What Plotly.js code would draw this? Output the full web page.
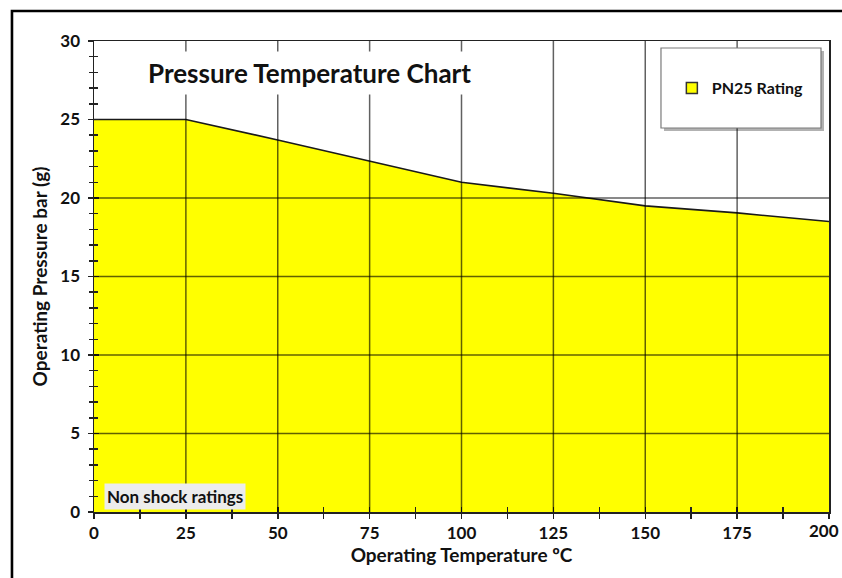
<!DOCTYPE html>
<html>
<head>
<meta charset="utf-8">
<script src="https://cdn.plot.ly/plotly-3.0.1.min.js"></script>
<style>html,body{margin:0;padding:0;background:#fff;}#chart{width:842px;height:578px;}</style>
</head>
<body>
<div id="chart"></div>
<script>
// ---- data ----
const temperatureC = [0, 25, 50, 75, 100, 125, 150, 175, 200];
const pressureBar = [25, 25, 23.7, 22.35, 21, 20.3, 19.5, 19.05, 18.5];
const seriesName = 'PN25 Rating';
const xTicks = [0, 25, 50, 75, 100, 125, 150, 175, 200];
const xTickLabels = ['0', '25', '50', '75', '100', '125', '150', '175', ''];
const xLastLabel = '200';
const yTicks = [0, 5, 10, 15, 20, 25, 30];
const hGrid = [5, 10, 15, 20];
const vGrid = [25, 50, 75, 100, 125, 150, 175];

const FONT = 'Lato, "Open Sans", sans-serif';
const gridCol = 'rgba(0,0,0,0.62)';

const traces = [
  {
    x: temperatureC, y: pressureBar, type: 'scatter', mode: 'lines',
    fill: 'tozeroy', fillcolor: '#ffff00',
    line: {color: '#1a1a1a', width: 1.6},
    showlegend: false, hoverinfo: 'skip'
  },
  {
    x: [null], y: [null], type: 'scatter', mode: 'markers', name: seriesName,
    marker: {symbol: 'square', size: 11, color: '#ffff00', line: {color: '#333', width: 1.5}}
  },
  {
    x: temperatureC, y: pressureBar, xaxis: 'x2', yaxis: 'y2', type: 'scatter', mode: 'lines',
    line: {width: 0}, opacity: 0, showlegend: false, hoverinfo: 'skip'
  }
];

const shapes = [];
hGrid.forEach(v => shapes.push({type: 'line', xref: 'paper', yref: 'y', x0: 0, x1: 1, y0: v, y1: v,
  line: {color: gridCol, width: 1.5}, layer: 'above'}));
vGrid.forEach(v => shapes.push({type: 'line', xref: 'x', yref: 'paper', x0: v, x1: v, y0: 0, y1: 1,
  line: {color: gridCol, width: 1.5}, layer: 'above'}));
// legend box shadow + box
shapes.push({type: 'rect', xref: 'paper', yref: 'paper', x0: 0.7755, x1: 0.9932, y0: 0.8090, y1: 0.9790,
  fillcolor: 'rgba(0,0,0,0.30)', line: {width: 0}, layer: 'above'});
shapes.push({type: 'rect', xref: 'paper', yref: 'paper', x0: 0.7714, x1: 0.9891, y0: 0.8153, y1: 0.9851,
  fillcolor: '#ffffff', line: {color: '#7a7a7a', width: 1.2}, layer: 'above'});
// outer frame
shapes.push({type: 'rect', xref: 'paper', yref: 'paper', x0: -0.1116, x1: 1.3, y0: -0.3, y1: 1.0637,
  fillcolor: 'rgba(0,0,0,0)', line: {color: '#000', width: 2.6}, layer: 'above'});

const layout = {
  width: 842, height: 578,
  margin: {l: 94, r: 13, t: 41, b: 66},
  paper_bgcolor: '#ffffff', plot_bgcolor: '#ffffff',
  font: {family: FONT, color: '#111', size: 16},
  showlegend: true,
  legend: {x: 0.7862, y: 0.900, xanchor: 'left', yanchor: 'middle',
    bgcolor: 'rgba(0,0,0,0)', borderwidth: 0,
    font: {family: FONT, size: 16, color: '#111', weight: 'bold'}},
  xaxis: {
    range: [0, 200], tickvals: xTicks, ticktext: xTickLabels,
    showgrid: false, zeroline: false,
    showline: true, linecolor: '#222', linewidth: 1.5, mirror: true,
    ticks: 'outside', ticklen: 5, tickwidth: 1.5, tickcolor: '#222',
    minor: {dtick: 12.5, tick0: 0, ticks: 'outside', ticklen: 5, tickwidth: 1.5, tickcolor: '#222', showgrid: false},
    tickfont: {family: FONT, size: 17, weight: 'bold', color: '#111'},
    title: {text: 'Operating Temperature ºC', standoff: 3,
      font: {family: FONT, size: 19, weight: 'bold', color: '#111'}}
  },
  yaxis: {
    range: [0, 30], tickvals: yTicks, ticktext: yTicks.map(String),
    showgrid: false, zeroline: false,
    showline: true, linecolor: '#222', linewidth: 1.5, mirror: true,
    ticks: 'outside', ticklen: 5, tickwidth: 1.5, tickcolor: '#222',
    minor: {dtick: 1, tick0: 0, ticks: 'outside', ticklen: 4, tickwidth: 1.5, tickcolor: '#222', showgrid: false},
    tickfont: {family: FONT, size: 17, weight: 'bold', color: '#111'},
    ticklabelstandoff: 4,
    title: {text: 'Operating Pressure bar (g)', standoff: 7,
      font: {family: FONT, size: 19, weight: 'bold', color: '#111'}}
  },
  xaxis2: {
    overlaying: 'x', anchor: 'y', range: [0, 200], tickvals: xTicks, showticklabels: false,
    showgrid: false, zeroline: false, showline: false,
    ticks: 'inside', ticklen: 5, tickwidth: 1.5, tickcolor: '#222',
    minor: {dtick: 12.5, tick0: 0, ticks: 'inside', ticklen: 5, tickwidth: 1.5, tickcolor: '#222', showgrid: false}
  },
  yaxis2: {
    overlaying: 'y', anchor: 'x', side: 'left', range: [0, 30], tickvals: yTicks, showticklabels: false,
    showgrid: false, zeroline: false, showline: false,
    ticks: 'inside', ticklen: 5, tickwidth: 1.5, tickcolor: '#222',
    minor: {dtick: 1, tick0: 0, ticks: 'inside', ticklen: 4, tickwidth: 1.5, tickcolor: '#222', showgrid: false}
  },
  shapes: shapes,
  annotations: [
    {text: 'Pressure Temperature Chart', xref: 'paper', yref: 'paper',
      x: 0.293, y: 0.932, xanchor: 'center', yanchor: 'middle', showarrow: false,
      bgcolor: '#ffffff', borderpad: 5,
      font: {family: FONT, size: 26, weight: 'bold', color: '#111'}},
    {text: 'Non shock ratings', xref: 'paper', yref: 'paper',
      x: 0.110, y: 0.032, xanchor: 'center', yanchor: 'middle', showarrow: false,
      bgcolor: '#ececec', borderpad: 2,
      font: {family: FONT, size: 17, weight: 'bold', color: '#111'}},
    {text: xLastLabel, xref: 'x', yref: 'paper',
      x: xTicks[xTicks.length - 1], y: -0.0403, xanchor: 'right', yanchor: 'middle', xshift: 11,
      showarrow: false, borderpad: 0,
      font: {family: FONT, size: 17, weight: 'bold', color: '#111'}}
  ]
};

Plotly.newPlot('chart', traces, layout, {staticPlot: true, displayModeBar: false});
</script>
</body>
</html>
